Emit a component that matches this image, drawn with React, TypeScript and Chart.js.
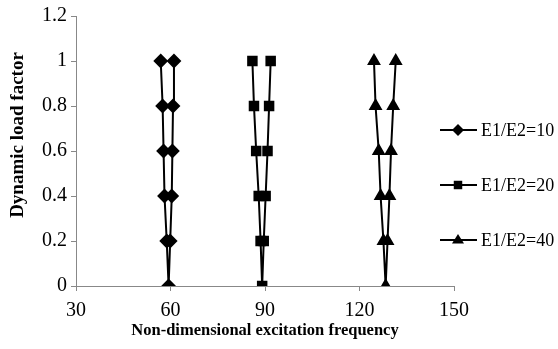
import React, { useEffect, useRef } from "react";
import { Chart, registerables } from "chart.js";

Chart.register(...registerables);

const loadFactors = [1, 0.8, 0.6, 0.4, 0.2, 0, 0.2, 0.4, 0.6, 0.8, 1];
const freqRatio10 = [56.9, 57.5, 57.8, 58.1, 58.8, 59.4, 59.9, 60.4, 60.6, 60.8, 61.1];
const freqRatio20 = [86.0, 86.5, 87.2, 88.0, 88.6, 89.1, 89.6, 90.2, 90.8, 91.3, 91.8];
const freqRatio40 = [124.6, 125.1, 126.1, 126.7, 127.6, 128.3, 128.9, 129.5, 130.0, 130.7, 131.5];
const seriesLabels = ["E1/E2=10", "E1/E2=20", "E1/E2=40"];
const seriesStyles = ["rectRot", "rect", "triangle"];
const xTicks = [30, 60, 90, 120, 150];
const yTitle = "Dynamic load factor";
const xTitle = "Non-dimensional excitation frequency";

const SERIF = "'Liberation Serif', 'Times New Roman', serif";

function drawMarker(ctx: CanvasRenderingContext2D, style: string, x: number, y: number, r: number) {
  ctx.beginPath();
  if (style === "rectRot") {
    ctx.moveTo(x, y - r);
    ctx.lineTo(x + r, y);
    ctx.lineTo(x, y + r);
    ctx.lineTo(x - r, y);
  } else if (style === "rect") {
    const s = r * Math.SQRT1_2;
    ctx.rect(x - s, y - s, 2 * s, 2 * s);
  } else {
    ctx.moveTo(x, y - r);
    ctx.lineTo(x + r, y + r * 0.6);
    ctx.lineTo(x - r, y + r * 0.6);
  }
  ctx.closePath();
  ctx.fill();
}

const legendPlugin = {
  id: "customLegend",
  afterDraw(chart: any) {
    const ctx = chart.ctx as CanvasRenderingContext2D;
    ctx.save();
    chart.data.datasets.forEach((ds: any, i: number) => {
      const y = 130 + i * 55;
      ctx.strokeStyle = "#000";
      ctx.fillStyle = "#000";
      ctx.lineWidth = 2;
      ctx.beginPath();
      ctx.moveTo(440, y);
      ctx.lineTo(477, y);
      ctx.stroke();
      drawMarker(ctx, ds.pointStyle, 458, y, 6);
      ctx.font = `18px ${SERIF}`;
      ctx.textBaseline = "middle";
      ctx.textAlign = "left";
      ctx.fillText(ds.label, 481, y + 1);
    });
    // y-axis title
    ctx.translate(18, 135);
    ctx.rotate(-Math.PI / 2);
    ctx.font = `bold 19px ${SERIF}`;
    ctx.textAlign = "center";
    ctx.textBaseline = "middle";
    ctx.fillStyle = "#000";
    ctx.fillText(yTitle, 0, 0);
    ctx.restore();
  },
};

export default function App() {
  const ref = useRef<HTMLCanvasElement>(null);
  useEffect(() => {
    const seriesX = [freqRatio10, freqRatio20, freqRatio40];
    const chart = new Chart(ref.current!, {
      type: "scatter",
      data: {
        datasets: seriesX.map((xs, i) => ({
          label: seriesLabels[i],
          data: xs.map((x, j) => ({ x, y: loadFactors[j] })),
          showLine: true,
          borderColor: "#000",
          backgroundColor: "#000",
          borderWidth: 2,
          pointStyle: seriesStyles[i] as any,
          pointRadius: 6,
          pointHoverRadius: 6,
          tension: 0,
        })),
      },
      options: {
        animation: false,
        responsive: false,
        events: [],
        layout: { padding: { left: 0, top: 16, right: 104, bottom: 0 } },
        plugins: { legend: { display: false }, tooltip: { enabled: false } },
        scales: {
          x: {
            type: "linear",
            min: 30,
            max: 150,
            afterBuildTicks: (scale: any) => {
              scale.ticks = xTicks.map((v) => ({ value: v }));
            },
            afterFit: (scale: any) => {
              scale.height = 63;
            },
            grid: { drawOnChartArea: false, color: "#888", tickLength: 5, tickColor: "#888" },
            border: { color: "#888", width: 1 },
            ticks: { color: "#000", font: { family: SERIF, size: 20 }, padding: 8, maxRotation: 0 },
            title: {
              display: true,
              text: xTitle,
              color: "#000",
              font: { family: SERIF, size: 16.5, weight: "bold" },
              padding: { top: 4, bottom: 8 },
            },
          },
          y: {
            type: "linear",
            min: 0,
            max: 1.2,
            ticks: {
              stepSize: 0.2,
              color: "#000",
              font: { family: SERIF, size: 20 },
              padding: 4,
              callback: (v: any) => String(Number(Number(v).toFixed(1))),
            },
            afterFit: (scale: any) => {
              scale.width = 76;
            },
            grid: { drawOnChartArea: false, color: "#888", tickLength: 5, tickColor: "#888" },
            border: { color: "#888", width: 1 },
            title: { display: false },
          },
        },
      },
      plugins: [legendPlugin],
    });
    return () => chart.destroy();
  }, []);
  return (
    <div style={{ position: "fixed", left: 0, top: 0, width: 558, height: 349, background: "#fff" }}>
      <canvas ref={ref} width={558} height={349} style={{ display: "block" }} />
    </div>
  );
}
